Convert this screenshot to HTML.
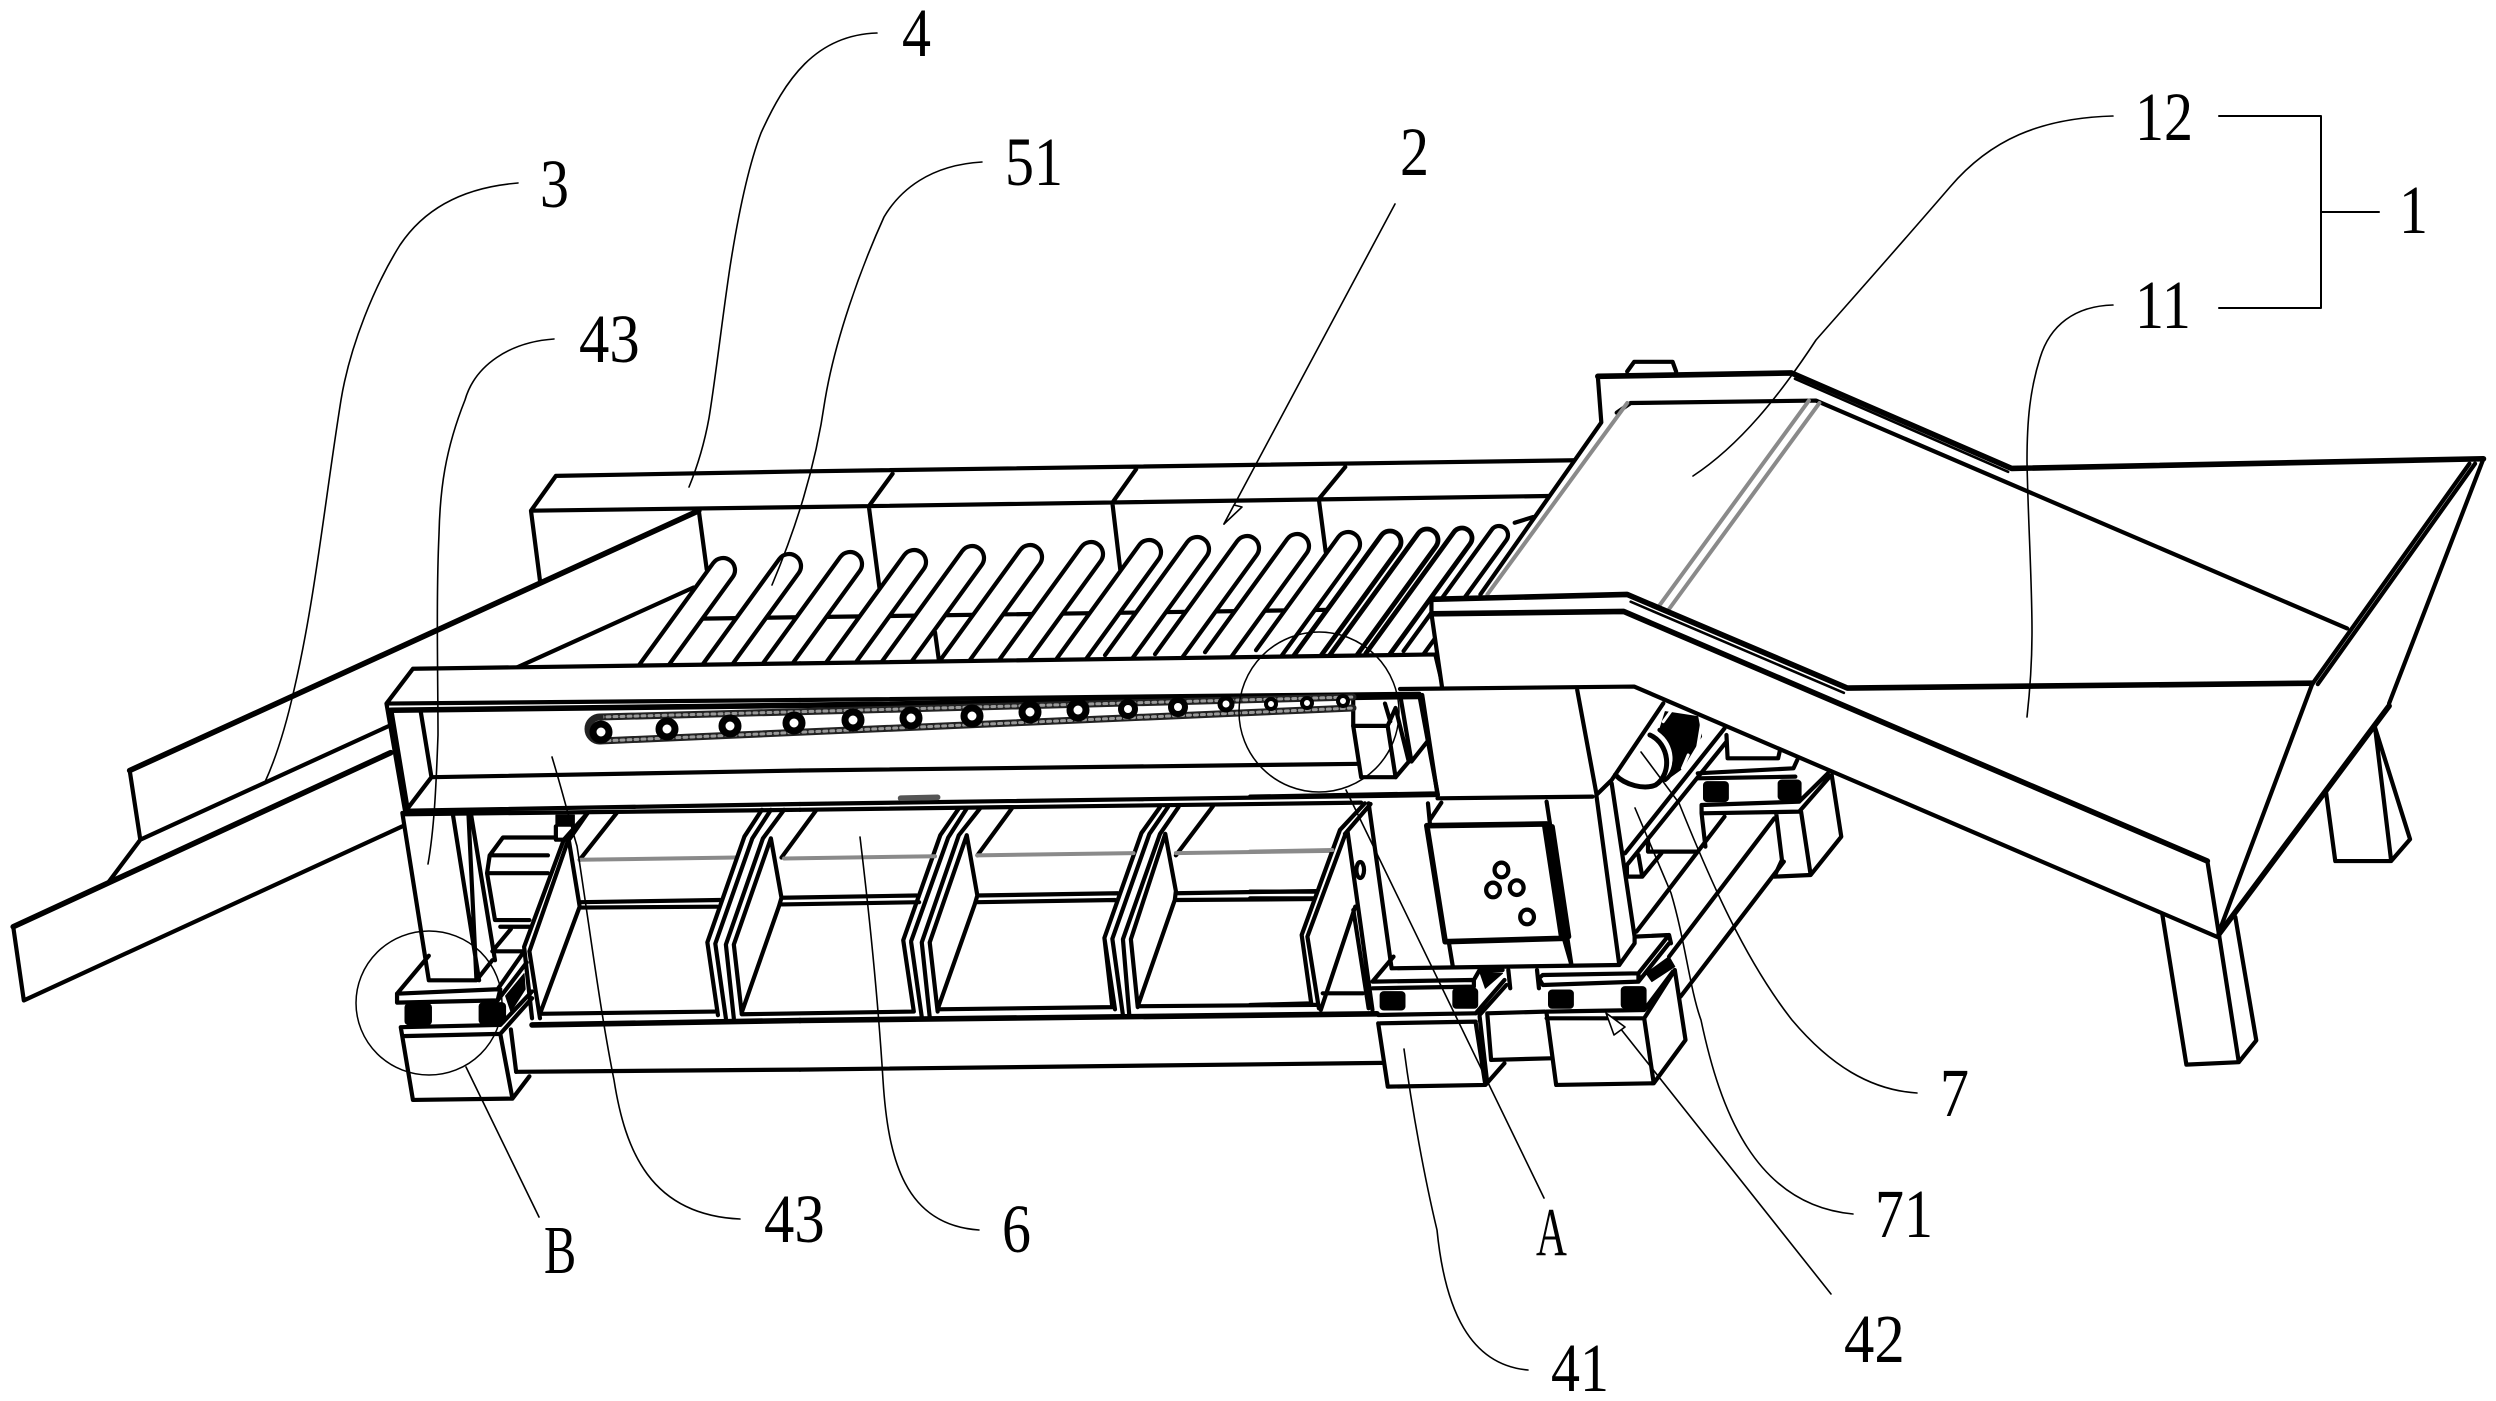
<!DOCTYPE html>
<html><head><meta charset="utf-8"><style>
html,body{margin:0;padding:0;background:#fff}
svg{display:block}
svg *{vector-effect:non-scaling-stroke}
path,polygon,ellipse,rect,circle{fill:none;stroke:#000;stroke-width:4.2;stroke-linejoin:round;stroke-linecap:round}
.t{stroke-width:5.6}
.n{stroke-width:2.6}
.g{stroke:#8a8a8a;stroke-width:4}
.l{stroke-width:1.6}
.w{fill:#fff}
.wn{fill:#fff;stroke:none}
.k{fill:#000;stroke:#000;stroke-width:1}
text{font-family:"Liberation Serif",serif;font-size:69px;fill:#000}
</style></head><body>
<svg width="2496" height="1401" viewBox="0 0 2496 1401" xmlns="http://www.w3.org/2000/svg">

<!-- back box and cross bars -->
<g transform="translate(0,400) scale(.5294,.4464)">
<path d="M1050,170 L1511,160 M1050,170 L1003,248 L1511,240 M1003,248 L1020,405 M1320,248 L1335,380 M1310,420 L975,600"/>
</g>
<g transform="translate(800,400) scale(.5294,.4464)">
<path d="M0,160 L1465,135 M0,240 L1415,215 M175,165 L130,238 L150,420 M635,155 L590,230 L605,380 M1030,150 L980,222 L993,340 M1350,275 L1385,262"/>
<path d="M-200,490 L1000,470 M255,520 L262,580"/>
</g>

<!-- rods -->
<g>
<path class="w" transform="translate(723,570) rotate(36)" d="M-12,140 V0 A12,12 0 0 1 12,0 V140"/>
<path class="w" transform="translate(789,566) rotate(36)" d="M-12,140 V0 A12,12 0 0 1 12,0 V140"/>
<path class="w" transform="translate(850,564) rotate(36)" d="M-12,140 V0 A12,12 0 0 1 12,0 V140"/>
<path class="w" transform="translate(914,562) rotate(36)" d="M-12,140 V0 A12,12 0 0 1 12,0 V140"/>
<path class="w" transform="translate(972,558) rotate(36)" d="M-12,140 V0 A12,12 0 0 1 12,0 V140"/>
<path class="w" transform="translate(1030,557) rotate(36)" d="M-12,140 V0 A12,12 0 0 1 12,0 V140"/>
<path class="w" transform="translate(1091,554) rotate(36)" d="M-12,140 V0 A12,12 0 0 1 12,0 V140"/>
<path class="w" transform="translate(1149,552) rotate(36)" d="M-12,140 V0 A12,12 0 0 1 12,0 V140"/>
<path class="w" transform="translate(1197,549) rotate(36)" d="M-12,140 V0 A12,12 0 0 1 12,0 V140"/>
<path class="w" transform="translate(1247,548) rotate(36)" d="M-12,140 V0 A12,12 0 0 1 12,0 V140"/>
<path class="w" transform="translate(1297,546) rotate(36)" d="M-12,140 V0 A12,12 0 0 1 12,0 V140"/>
<path class="w" transform="translate(1348,544) rotate(36)" d="M-12,140 V0 A12,12 0 0 1 12,0 V140"/>
<path class="w" style="stroke-width:4.8" transform="translate(1390,542) rotate(36)" d="M-11,150 V0 A11,11 0 0 1 11,0 V150"/>
<path class="w" style="stroke-width:4.8" transform="translate(1427,540) rotate(36)" d="M-11,150 V0 A11,11 0 0 1 11,0 V150"/>
<path class="w" style="stroke-width:4.8" transform="translate(1462,538) rotate(36)" d="M-10,150 V0 A10,10 0 0 1 10,0 V150"/>
<path class="w" transform="translate(1499,535) rotate(36)" d="M-9,150 V0 A9,9 0 0 1 9,0 V150"/>
</g>

<!-- chute 3 -->
<g transform="translate(0,400) scale(.5294,.4464)">
<path class="t" d="M245,830 L1320,248"/>
<path d="M245,830 L265,985 L735,730 M265,985 L205,1080"/>
<path class="t" d="M25,1180 L738,790"/>
<path d="M25,1180 L45,1345 L760,955"/>
<!-- left leg -->
<path d="M760,925 L810,1300 L900,1300 L885,930 M855,925 L905,1300 M890,930 L935,1255 M810,1245 L750,1330 M900,1300 L930,1255"/>
<path d="M925,1020 L950,980 L1050,980 M925,1020 L1035,1020 M925,1060 L1035,1060 M925,1020 L920,1060 L935,1165 L1000,1165 M945,1180 L1000,1180 M965,1185 L930,1235 L990,1235"/>
<!-- foot B -->
<path d="M750,1330 L940,1320 L990,1235 M750,1350 L940,1345 L945,1320 M750,1330 L750,1350 M940,1345 L995,1260"/>
<rect class="k" x="765" y="1352" width="50" height="48" rx="8"/>
<rect class="k" x="905" y="1350" width="50" height="48" rx="8"/>
<path class="k" d="M955,1335 L990,1285 L992,1320 L965,1370 Z"/>
<path d="M757,1405 L945,1400 L1005,1325 M760,1425 L945,1420 L1005,1340 M757,1405 L780,1568 L968,1565 L945,1420 M968,1565 L1000,1515 M965,1410 L975,1505"/>
<path class="t" d="M1005,1400 L1511,1390"/>
<path d="M975,1505 L1511,1500"/>
<!-- first bin -->
<path d="M990,1225 L1065,985 L1110,925 M1000,1235 L1075,980 M990,1225 L1005,1385 M1000,1235 L1020,1385 M1020,1375 L1095,1135 L1075,990 M1095,1030 L1165,925 M1020,1375 L1350,1370 M1095,1125 L1360,1120 M1095,1137 L1355,1135"/>
<path class="g" d="M1095,1030 L1390,1025"/>
<path class="k" d="M1050,930 H1085 V955 H1050 Z"/>
<path d="M1050,955 V985 H1075 L1110,925"/>
</g>

<!-- beam -->
<polygon class="wn" points="413,669 1435,654 1438,795 405,811 386,704"/>
<g transform="translate(0,400) scale(.5294,.4464)">
<path d="M780,602 L1511,590 M780,602 L730,680 L1511,672 M730,680 L765,920 L1511,905 M740,700 L770,915 M765,928 L1511,918 M815,845 L1511,830 M795,700 L815,845 L770,915"/>
<path class="t" d="M738,695 L1511,684"/>
</g>
<g transform="translate(800,400) scale(.5294,.4464)">
<path d="M0,590 L1200,570 M1200,570 L1215,645 M0,672 L1170,658 M0,830 L1060,815 M0,905 L1205,885 M0,918 L1060,902 M1170,662 L1205,885"/>
<path class="t" d="M0,684 L1170,664"/>
<path class="t" d="M190,892 L260,890" style="stroke:#555"/>
<!-- right bolt block -->
<path class="w" d="M1045,730 L1060,845 L1125,845 L1110,730 Z"/>
<path d="M1045,670 V730 M1110,730 L1125,690 M1125,845 L1150,810 L1125,690 M1135,670 L1155,810 L1185,765 M1105,680 L1115,720"/>
<!-- bins: dividers -->
<path d="M195,1210 L265,975 L300,915 M210,1212 L280,980 L315,915 M230,1215 L300,975 L340,915 M245,1215 L315,975 M195,1210 L215,1370 L-110,1376 M210,1215 L230,1382 M230,1215 L245,1382 M245,1215 L260,1370 M260,1365 L330,1130 L335,1110 L315,975 M335,1020 L400,915 M335,1110 L600,1105 M335,1125 L595,1120 M260,1365 L590,1360 M590,1360 L575,1205 M575,1205 L645,970 L680,912 M590,1207 L660,972 L695,912 M610,1208 L680,972 L715,912 M625,1208 L690,972 M575,1205 L595,1365 M590,1207 L610,1378 M610,1208 L622,1378 M625,1208 L638,1360 M638,1358 L708,1120 L710,1100 L690,972 M710,1020 L780,910 M710,1105 L975,1100 M710,1120 L970,1118 M638,1358 L975,1355"/>
<path d="M-175,1215 L-105,978 L-72,918 M-160,1218 L-90,982 L-55,918 M-140,1220 L-70,982 L-30,918 M-125,1220 L-55,982 M-175,1215 L-155,1378 M-160,1218 L-140,1385 M-140,1220 L-125,1385 M-125,1220 L-110,1375 M-110,1372 L-40,1135 L-35,1115 L-55,982 M-35,1025 L30,920 M-35,1115 L220,1110 M-35,1130 L225,1125"/>
<path class="g" d="M-30,1027 L255,1022 M335,1020 L630,1015 M710,1015 L1005,1010"/>
<path class="t" d="M0,1390 L1090,1375"/>
<path d="M0,1500 L1100,1485"/>
</g>

<!-- chain -->
<path style="stroke:#222;stroke-width:7" d="M600,717 L1353,697 M600,741 L1353,708"/>
<path style="stroke:#999;stroke-width:3;stroke-dasharray:3 4" d="M600,717 L1353,697 M600,741 L1353,708"/>
<path style="stroke:#222;stroke-width:7" d="M600,717 A12,12 0 0 0 600,741"/>
<g>
<circle class="w" style="stroke-width:7" cx="601" cy="732" r="8"/>
<circle class="w" style="stroke-width:7" cx="667" cy="729" r="8"/>
<circle class="w" style="stroke-width:7" cx="730" cy="726" r="8"/>
<circle class="w" style="stroke-width:7" cx="794" cy="723" r="8"/>
<circle class="w" style="stroke-width:7" cx="853" cy="720" r="8"/>
<circle class="w" style="stroke-width:7" cx="911" cy="718" r="8"/>
<circle class="w" style="stroke-width:7" cx="972" cy="716" r="8"/>
<circle class="w" style="stroke-width:7" cx="1030" cy="712" r="8"/>
<circle class="w" style="stroke-width:7" cx="1078" cy="710" r="8"/>
<circle class="w" style="stroke-width:6" cx="1128" cy="709" r="7"/>
<circle class="w" style="stroke-width:6" cx="1178" cy="707" r="7"/>
<circle class="w" style="stroke-width:5" cx="1226" cy="704" r="6"/>
<circle class="w" style="stroke-width:4" cx="1271" cy="704" r="5"/>
<circle class="w" style="stroke-width:4" cx="1307" cy="703" r="5"/>
<circle class="w" style="stroke-width:4" cx="1343" cy="701" r="5"/>
</g>

<!-- right machinery -->
<g transform="translate(1250,680) scale(.3827,.3333)">
<path d="M855,30 L905,340 M490,355 L895,350 M450,45 L490,345 M0,350 L490,340"/>
<path d="M310,370 L370,865 L965,855 M465,370 L470,430 M500,368 L470,420 M520,790 L530,860 M775,365 L840,855 M820,775 L840,855"/>
<path class="t" d="M462,437 L775,432 M462,437 L510,785 L820,775 M770,435 L815,775"/>
<path class="t" style="stroke-width:5" d="M778,440 L822,770 M790,440 L833,770"/>
<ellipse cx="657" cy="570" rx="18" ry="22"/><ellipse cx="635" cy="630" rx="18" ry="22"/><ellipse cx="697" cy="623" rx="18" ry="22"/><ellipse cx="724" cy="711" rx="18" ry="22"/>
<ellipse cx="288" cy="570" rx="10" ry="24"/>
<!-- right column -->
<path d="M905,345 L965,855 M945,310 L1005,770 L1005,790 L965,855 M905,345 L945,300 L1080,70"/>
<!-- motor -->
<path class="k" d="M1085,95 L1170,110 L1180,170 L1130,265 L1100,290 L1110,200 L1070,150 Z"/>
<path style="stroke:#fff;stroke-width:3" d="M1105,85 L1080,125 M1180,130 L1170,200 M1130,265 L1145,225"/>
<path style="stroke-width:5" d="M1045,165 C1095,190 1105,280 1060,315 C1030,330 980,315 955,285"/>
<path d="M1070,150 C1120,190 1120,270 1085,300"/>
<path d="M980,520 L1240,145 M985,555 L1245,185 M985,590 L1025,590 L1075,520 M1015,525 L1025,590 M985,555 V590 M1040,480 V515 L1170,515 M1245,165 L1248,235 L1380,235 L1385,210"/>
<!-- right foot -->
<path d="M1170,280 L1420,265 L1430,240 M1170,295 L1425,290 M1180,375 L1435,365 M1180,400 L1435,395 M1435,365 L1510,280 M1435,395 L1515,290 M1180,375 V400 M1375,400 L1390,540 L1370,590 L1465,585 L1545,470 L1520,285 M1440,395 L1465,585 M1240,410 L1010,755 M1370,415 L1095,830 M1395,545 L1125,950 M1180,400 L1190,500"/>
<rect class="k" x="1185" y="305" width="65" height="60" rx="10"/>
<rect class="k" x="1380" y="300" width="60" height="60" rx="10"/>
<!-- divider right -->
<path d="M255,455 L320,990 M275,680 L185,990 M190,940 L295,940 M135,765 L235,450 L300,370 M150,770 L250,460 M135,765 L160,970 L0,975 M150,770 L180,985 M270,690 L310,985 M248,462 L315,372"/>
<path class="g" d="M0,515 L215,510"/>
<path d="M0,635 L170,635 M0,655 L165,655"/>
<!-- foot A -->
<path d="M320,905 L580,900 M320,925 L585,920 M585,900 L600,870 L660,870 M320,905 L375,830 M585,920 L585,900 M590,1000 L665,900 M600,1005 L670,915"/>
<rect class="k" x="340" y="935" width="65" height="55" rx="10"/>
<rect class="k" x="530" y="925" width="65" height="60" rx="10"/>
<path class="k" d="M600,875 L660,880 L615,925 Z"/>
<path d="M335,1005 L590,1000 M340,1030 L590,1025 M335,1030 L360,1220 L615,1215 L590,1030 M615,1215 L665,1150 M600,1010 L620,1210"/>
<path d="M620,1000 L770,995 M620,1000 L630,1140 L785,1135 M675,870 L680,925 M750,870 L755,925"/>
<!-- foot 42 -->
<path d="M765,885 L1015,880 L1015,905 L765,915 L755,895 Z M1015,880 L1095,765 L1005,770 M1095,765 L1100,790 M1015,905 L1095,790"/>
<rect class="k" x="780" y="930" width="65" height="55" rx="10"/>
<rect class="k" x="970" y="920" width="65" height="65" rx="10"/>
<path class="k" d="M1035,880 L1095,830 L1110,860 L1050,905 Z"/>
<path d="M775,995 L1030,990 M775,1015 L1030,1015 M1030,1015 L1110,870 M1030,990 L1105,875 M775,1000 L800,1215 L1055,1210 L1030,1015 M1055,1210 L1138,1080 L1110,870"/>
</g>

<!-- legs + hopper -->
<g transform="translate(1400,340) scale(.699,.4847)">
<path d="M1395,800 L1445,1030 L1418,1075 L1338,1075 L1325,935 M1395,800 L1418,1075"/>
<path d="M1090,1180 L1125,1495 L1200,1490 L1225,1445 L1195,1190 M1172,1230 L1200,1490"/>
<polygon class="wn" points="283,75 560,68 875,265 1550,245 1420,745 1172,1230 335,715 60,715 45,535 125,525 283,170"/>
<path d="M335,45 L390,45 L395,65 M325,65 L335,45 M283,75 L288,170 L115,525"/>
<path class="t" d="M283,75 L560,68 L875,265 L1550,245"/>
<path class="n" d="M565,80 L870,272"/>
<path d="M1550,245 L1415,750"/>
<path d="M1530,255 L1305,710 M1538,255 L1313,710"/>
<path class="t" d="M1415,755 L1172,1225"/>
<path d="M330,130 L595,125 L1355,595 M330,130 L310,150"/>
<path class="g" d="M325,130 L125,525 M585,125 L370,550 M600,130 L385,555"/>
<path class="t" d="M45,535 L325,525 L640,718 L1305,708"/>
<path class="n" d="M330,540 L635,728"/>
<path class="t" d="M45,565 L320,560 L1155,1075"/>
<path d="M1155,1075 L1172,1230 M335,715 L1170,1232 M0,720 L335,715 M45,535 L45,565 L60,715 M1305,710 L1172,1220"/>
</g>

<!-- detail circles -->
<ellipse class="n" style="stroke-width:1.5" cx="429" cy="1003" rx="73" ry="72"/>
<ellipse class="n" style="stroke-width:1.5" cx="1319" cy="712" rx="80" ry="80"/>

<!-- leader lines -->
<g>
<path class="l" d="M518,183 C455,188 420,215 400,245 C375,285 350,345 341,400 C325,500 315,600 294,690 C285,730 275,760 265,782"/>
<path class="l" d="M877,33 C815,35 785,80 761,133 C745,175 735,235 730,267 C722,320 716,375 709,418 C705,440 698,465 689,487"/>
<path class="l" d="M982,162 C930,165 900,190 884,217 C860,270 835,340 825,400 C815,470 795,530 772,585"/>
<path class="l" d="M1395,204 L1224,524"/>
<polygon class="l w" points="1224,524 1242,507 1234,505"/>
<path class="l" d="M554,339 C510,342 475,365 465,400 C445,450 440,490 439,534 C436,600 438,680 438,735 C436,790 434,830 428,864"/>
<path class="l" d="M2113,116 C2040,118 1990,140 1950,187 C1900,245 1860,290 1816,340 C1780,395 1740,445 1693,476"/>
<path class="l" d="M2113,305 C2075,306 2050,325 2040,358 C2030,390 2027,420 2027,461 C2028,520 2032,580 2032,631 C2032,665 2030,690 2027,717"/>
<path class="l" style="stroke-width:2" d="M2219,116 H2321 V308 H2219 M2321,212 H2379"/>
<path class="l" d="M466,1067 L539,1217"/>
<path class="l" d="M552,757 C565,800 572,830 577,846 C590,930 600,1010 614,1080 C625,1150 650,1215 740,1219"/>
<path class="l" d="M860,837 C870,920 878,1000 883,1080 C888,1160 905,1225 979,1230"/>
<path class="l" d="M1404,1049 C1412,1110 1425,1180 1437,1230 C1445,1310 1470,1365 1528,1370"/>
<path class="l" d="M1346,790 L1544,1198"/>
<path class="l" d="M1641,752 L1679,803 C1710,880 1745,960 1792,1020 C1830,1065 1870,1090 1917,1093"/>
<path class="l" d="M1635,808 L1671,893 C1685,940 1690,990 1701,1020 C1720,1110 1755,1205 1853,1214"/>
<path class="l" d="M1620,1028 L1831,1294"/>
<polygon class="l w" points="1606,1013 1625,1027 1614,1035"/>
</g>

<!-- labels -->
<text transform="translate(902,56) scale(.84,1)">4</text>
<text transform="translate(540,207) scale(.84,1)">3</text>
<text transform="translate(1005,185) scale(.84,1)">51</text>
<text transform="translate(1400,175) scale(.84,1)">2</text>
<text transform="translate(579,362) scale(.88,1)">43</text>
<text transform="translate(2135,140) scale(.84,1)">12</text>
<text transform="translate(2135,328) scale(.84,1)">11</text>
<text transform="translate(2399,233) scale(.84,1)">1</text>
<text transform="translate(544,1273) scale(.7,1)">B</text>
<text transform="translate(764,1242) scale(.88,1)">43</text>
<text transform="translate(1002,1252) scale(.84,1)">6</text>
<text transform="translate(1536,1255) scale(.62,1)">A</text>
<text transform="translate(1940,1116) scale(.84,1)">7</text>
<text transform="translate(1875,1237) scale(.84,1)">71</text>
<text transform="translate(1844,1362) scale(.88,1)">42</text>
<text transform="translate(1551,1391) scale(.84,1)">41</text>
</svg>
</body></html>
